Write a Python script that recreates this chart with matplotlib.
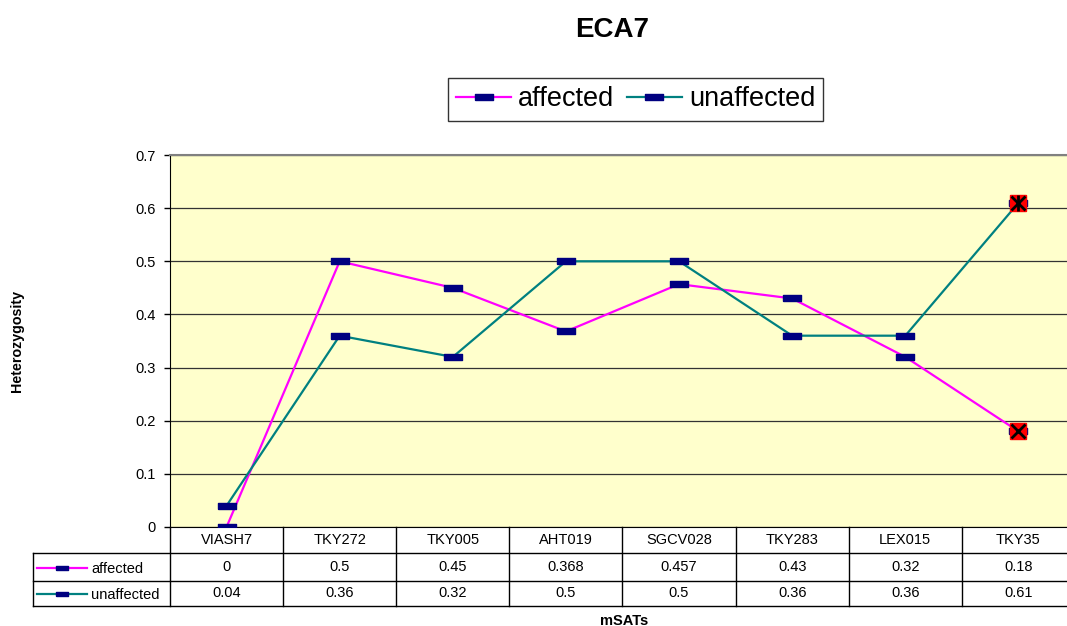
import matplotlib
matplotlib.use("Agg")
import matplotlib.pyplot as plt
from matplotlib.lines import Line2D
from matplotlib.transforms import blended_transform_factory

plt.rcParams['font.family'] = ['Liberation Sans', 'DejaVu Sans']

# data
markers = ['VIASH7', 'TKY272', 'TKY005', 'AHT019', 'SGCV028', 'TKY283', 'LEX015', 'TKY35']
affected = [0, 0.5, 0.45, 0.368, 0.457, 0.43, 0.32, 0.18]
unaffected = [0.04, 0.36, 0.32, 0.5, 0.5, 0.36, 0.36, 0.61]
affected_txt = ['0', '0.5', '0.45', '0.368', '0.457', '0.43', '0.32', '0.18']
unaffected_txt = ['0.04', '0.36', '0.32', '0.5', '0.5', '0.36', '0.36', '0.61']
yticks = [0, 0.1, 0.2, 0.3, 0.4, 0.5, 0.6, 0.7]

W, H = 1067, 626
def fx(x): return x / W
def fy(y): return 1 - y / H

fig = plt.figure(figsize=(W / 100, H / 100), dpi=100)
ax = fig.add_axes([fx(170), fy(527), (1075 - 170) / W, (527 - 155) / H])
ax.set_facecolor('#FFFFCC')

dash = [(-1, -0.3), (1, -0.3), (1, 0.3), (-1, 0.3), (-1, -0.3)]
xs = list(range(len(markers)))

ax.plot(xs, affected, color='#FF00FF', lw=1.6, marker=dash, ms=12.5,
        mfc='#000080', mec='#000080', zorder=3)
ax.plot(xs, unaffected, color='#008080', lw=1.6, marker=dash, ms=12.5,
        mfc='#000080', mec='#000080', zorder=3)

# highlighted last points
for vals in (affected, unaffected):
    ax.plot(xs[-1], vals[-1], marker='s', ms=12, mfc='red', mec='red', zorder=4)
    ax.plot(xs[-1], vals[-1], marker='x', ms=10, mew=2, color='black', zorder=5)
ax.plot(xs[-1], unaffected[-1], marker='|', ms=12, mew=2, color='black', zorder=5)

ax.set_xlim(-0.5, len(markers) - 0.5)
ax.set_ylim(0, 0.7)
ax.set_yticks(yticks)
ax.set_yticklabels([f'{v:g}' for v in yticks], fontsize=10.5)
ax.yaxis.grid(True, color='#333333', lw=0.9)
ax.set_axisbelow(True)
ax.set_xticks([])
ax.tick_params(axis='y', direction='out', length=4, width=1, color='black', pad=6)
for s in ('top', 'right'):
    ax.spines[s].set_color('#808080')
    ax.spines[s].set_linewidth(1.5)
ax.spines['left'].set_color('black')
ax.spines['bottom'].set_color('black')

# data table under the plot
tr = blended_transform_factory(ax.transData, fig.transFigure)
line_kw = dict(color='black', lw=1, clip_on=False)
for k in range(len(markers) + 1):
    fig.add_artist(Line2D([k - 0.5, k - 0.5], [fy(527), fy(606)], transform=tr, **line_kw))
for y in (553, 581, 606):
    fig.add_artist(Line2D([fx(33), fx(1075)], [fy(y), fy(y)], transform=fig.transFigure, **line_kw))
fig.add_artist(Line2D([fx(33), fx(33)], [fy(553), fy(606)], transform=fig.transFigure, **line_kw))

for i, m in enumerate(markers):
    fig.text(i, fy(540), m, transform=tr, ha='center', va='center', fontsize=10.5)
    fig.text(i, fy(567), affected_txt[i], transform=tr, ha='center', va='center', fontsize=10.5)
    fig.text(i, fy(593), unaffected_txt[i], transform=tr, ha='center', va='center', fontsize=10.5)

for label, col, y in (('affected', '#FF00FF', 568), ('unaffected', '#008080', 594)):
    fig.add_artist(Line2D([fx(37), fx(87)], [fy(y), fy(y)], color=col, lw=1.6,
                          transform=fig.transFigure))
    fig.add_artist(Line2D([fx(62)], [fy(y)], marker=dash, ms=9, mfc='#000080',
                          mec='#000080', transform=fig.transFigure))
    fig.text(fx(91), fy(y + 1), label, ha='left', va='center', fontsize=10.5)

# legend
leg = fig.legend(handles=[
    Line2D([], [], color='#FF00FF', lw=1.6, marker=dash, ms=13, mfc='#000080', mec='#000080'),
    Line2D([], [], color='#008080', lw=1.6, marker=dash, ms=13, mfc='#000080', mec='#000080')],
    labels=['affected', 'unaffected'], loc='center', bbox_to_anchor=(fx(635.5), fy(99.5)),
    ncol=2, fontsize=19.5, frameon=True, fancybox=False, handlelength=2.05,
    columnspacing=0.45, handletextpad=0.25, borderpad=0.3, borderaxespad=0)
leg.get_frame().set_edgecolor('black')
leg.get_frame().set_linewidth(1)

fig.text(fx(612), fy(30), 'ECA7', ha='center', va='center', fontsize=20, fontweight='bold')
fig.text(fx(17), fy(341), 'Heterozygosity', ha='center', va='center', rotation=90,
         fontsize=10.3, fontweight='bold')
fig.text(fx(624), fy(621), 'mSATs', ha='center', va='center', fontsize=10.5, fontweight='bold')

fig.savefig('out.png', dpi=100)
